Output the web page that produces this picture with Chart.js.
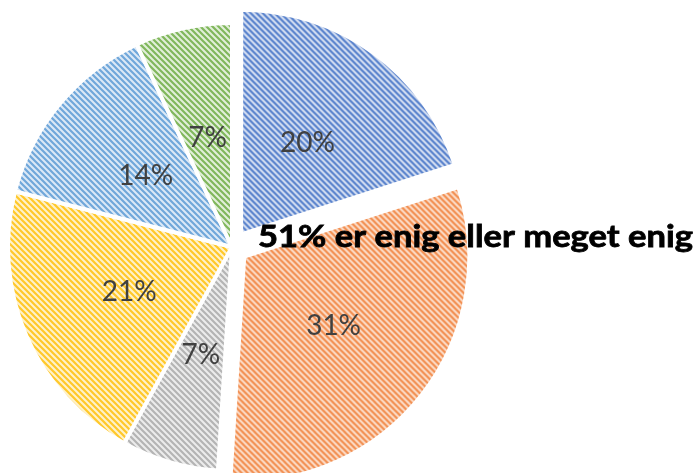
<!DOCTYPE html>
<html>
<head>
<meta charset="utf-8">
<script src="https://cdn.jsdelivr.net/npm/chart.js@4"></script>
<style>
  html, body { margin: 0; padding: 0; background: #fff; }
  #wrap { width: 700px; height: 473px; }
</style>
</head>
<body>
<div id="wrap"><canvas id="pie"></canvas></div>
<script>
// data (clockwise from 12 o'clock)
var categories = ["Meget enig", "Enig", "Hverken enig eller uenig", "Uenig", "Meget uenig", "Ved ikke"];
var values = [20, 31, 7, 21, 14, 7];
var valueLabels = ["20%", "31%", "7%", "21%", "14%", "7%"];
var headline = "51% er enig eller meget enig";

// styling
var stripeColors = ['#5680cc', '#f28c4c', '#b4b4b4', '#ffc82a', '#70a7da', '#80b75c'];
var backColors = ['#d9e2f3', '#fce0cf', '#ececec', '#fff2cb', '#dce9f6', '#e2efda'];
var offsets = [62, 62, 0, 0, 0, 0];

function stripes(fg, bg) {
    var s = 6;
    var c = document.createElement('canvas');
    c.width = s; c.height = s;
    var g = c.getContext('2d');
    g.fillStyle = bg;
    g.fillRect(0, 0, s, s);
    g.strokeStyle = fg;
    g.lineWidth = 2.2;
    g.beginPath();
    for (var k = -1; k <= 1; k++) {
        g.moveTo(k * s - 1, -1);
        g.lineTo(k * s + s + 1, s + 1);
    }
    g.stroke();
    return g.createPattern(c, 'repeat');
}

var fills = stripeColors.map(function (c, i) { return stripes(c, backColors[i]); });

// percent labels inside each slice, plus the headline text
var labelPlugin = {
    id: 'labels',
    afterDatasetsDraw: function (chart) {
        var ctx = chart.ctx;
        var arcs = chart.getDatasetMeta(0).data;
        ctx.save();
        ctx.font = '28px Lato';
        ctx.fillStyle = '#404040';
        ctx.textAlign = 'center';
        ctx.textBaseline = 'middle';
        arcs.forEach(function (a, i) {
            var mid = (a.startAngle + a.endAngle) / 2;
            var circ = a.endAngle - a.startAngle;
            var off = offsets[i] / 4;
            off += off * (1 - Math.sin(Math.min(Math.PI, circ)));
            var d = off + a.outerRadius * 0.5;
            ctx.fillText(valueLabels[i], a.x + Math.cos(mid) * d, a.y + Math.sin(mid) * d);
        });

        ctx.font = 'bold 31px Lato';
        ctx.fillStyle = '#000';
        ctx.textAlign = 'left';
        ctx.textBaseline = 'alphabetic';
        var w = ctx.measureText(headline).width;
        ctx.translate(258, 247);
        ctx.scale(435 / w, 1);
        ctx.lineWidth = 0.8;
        ctx.strokeStyle = '#000';
        ctx.strokeText(headline, 0, 0);
        ctx.fillText(headline, 0, 0);
        ctx.restore();
    }
};

var ctx = document.getElementById("pie").getContext('2d');
var chart = new Chart(ctx, {
    type: 'pie',
    data: {
        labels: categories,
        datasets: [{
            data: values,
            backgroundColor: fills,
            borderColor: '#ffffff',
            borderWidth: 4,
            offset: offsets,
            hoverOffset: 0,
            clip: false
        }]
    },
    options: {
        responsive: true,
        maintainAspectRatio: false,
        animation: false,
        events: [],
        radius: 224,
        layout: { padding: { left: 0, right: 236, top: 21, bottom: 0 } },
        plugins: {
            legend: { display: false },
            tooltip: { enabled: false }
        }
    },
    plugins: [labelPlugin]
});
</script>
</body>
</html>
